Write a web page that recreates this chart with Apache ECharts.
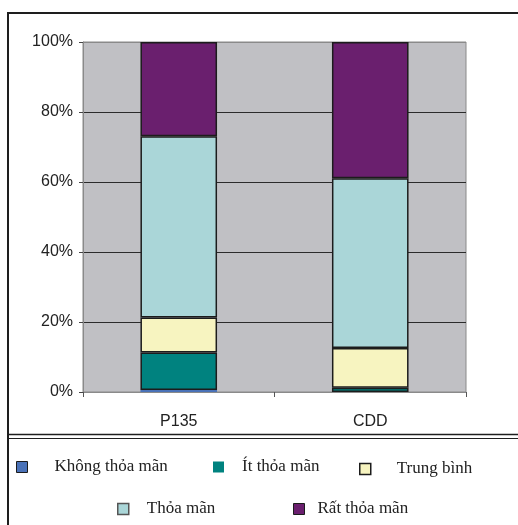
<!DOCTYPE html>
<html>
<head>
<meta charset="utf-8">
<script src="https://cdn.jsdelivr.net/npm/echarts@6/dist/echarts.min.js"></script>
<style>
  html, body { margin: 0; padding: 0; background: #ffffff; }
  #chart { width: 518px; height: 525px; }
</style>
</head>
<body>
<div id="chart"></div>
<script>
// Satisfaction levels (percent of respondents) for each programme
const categories = ['P135', 'CDD'];
const yTickLabels = ['0%', '20%', '40%', '60%', '80%', '100%'];

const seriesNames = ['Không thỏa mãn', 'Ít thỏa mãn', 'Trung bình', 'Thỏa mãn', 'Rất thỏa mãn'];
const khongThoaMan = [0.6, 0];
const itThoaMan = [10.7, 1.2];
const trungBinh = [10.0, 11.4];
const thoaMan = [51.8, 48.5];
const ratThoaMan = [26.9, 38.9];

const seriesValues = [khongThoaMan, itThoaMan, trungBinh, thoaMan, ratThoaMan];
const seriesColors = ['#4a72b8', '#00827f', '#f7f4c0', '#aad6d8', '#6a1f6e'];

const chart = echarts.init(document.getElementById('chart'), null, { renderer: 'canvas' });

const series = seriesNames.map((name, i) => ({
  name: name,
  type: 'bar',
  stack: 'total',
  barWidth: '40%',
  data: seriesValues[i],
  itemStyle: {
    color: seriesColors[i],
    borderColor: '#1c1c1c',
    borderWidth: i === 0 ? 0 : 1.5
  },
  emphasis: { disabled: true }
}));

// Legend placement: one small legend per entry, laid out in two rows
const legendSpots = [
  { left: 16, top: 457, gap: 22, border: '#1c1c1c', bw: 1 },
  { left: 213, top: 457, gap: 13, border: '#00827f', bw: 0 },
  { left: 359, top: 459, gap: 21, border: '#1c1c1c', bw: 1.5 },
  { left: 117, top: 499, gap: 13, border: '#555555', bw: 1.5 },
  { left: 293, top: 499, gap: 8, border: '#1c1c1c', bw: 1 }
];

const legends = seriesNames.map((name, i) => ({
  show: true,
  left: legendSpots[i].left,
  top: legendSpots[i].top,
  padding: 0,
  itemWidth: 11,
  itemHeight: 11,
  icon: 'rect',
  selectedMode: false,
  data: [{
    name: name,
    itemStyle: {
      color: seriesColors[i],
      borderColor: legendSpots[i].border,
      borderWidth: legendSpots[i].bw
    }
  }],
  textStyle: {
    fontFamily: '"Liberation Serif", "DejaVu Serif", serif',
    fontSize: 17,
    color: '#222222',
    lineHeight: 20,
    padding: [0, 0, 0, legendSpots[i].gap]
  }
}));

const gridLineColor = '#2b2b2b';

chart.setOption({
  animation: false,
  backgroundColor: '#ffffff',
  grid: {
    left: 83,
    right: 52,
    top: 42,
    bottom: 133,
    show: true,
    backgroundColor: '#c0c0c4',
    borderColor: '#8a8a8a',
    borderWidth: 1
  },
  legend: legends,
  xAxis: {
    type: 'category',
    data: categories,
    axisLine: { show: true, lineStyle: { color: '#8a8a8a', width: 1 } },
    axisTick: { show: true, length: 5, lineStyle: { color: '#555555' } },
    axisLabel: {
      margin: 22,
      fontFamily: '"Liberation Sans", Arial, sans-serif',
      fontSize: 16,
      color: '#222222'
    },
    splitLine: { show: false }
  },
  yAxis: {
    type: 'value',
    min: 0,
    max: 100,
    interval: 20,
    axisLine: { show: true, lineStyle: { color: '#8a8a8a', width: 1 } },
    axisTick: { show: true, length: 4, lineStyle: { color: '#444444' } },
    axisLabel: {
      margin: 10,
      fontFamily: '"Liberation Sans", Arial, sans-serif',
      fontSize: 16,
      color: '#222222',
      formatter: (v) => yTickLabels[Math.round(v / 20)]
    },
    splitLine: {
      show: true,
      lineStyle: {
        color: ['#8a8a8a', gridLineColor, gridLineColor, gridLineColor, gridLineColor, '#8a8a8a'],
        width: 1
      }
    }
  },
  graphic: [
    // outer frame: top and left edges
    { type: 'line', shape: { x1: 7, y1: 13, x2: 518, y2: 13 }, style: { stroke: '#1e1e1e', lineWidth: 2 }, silent: true },
    { type: 'line', shape: { x1: 8, y1: 12, x2: 8, y2: 525 }, style: { stroke: '#1e1e1e', lineWidth: 2 }, silent: true },
    // double rule separating the legend
    { type: 'line', shape: { x1: 8, y1: 434.5, x2: 518, y2: 434.5 }, style: { stroke: '#1e1e1e', lineWidth: 1.5 }, silent: true },
    { type: 'line', shape: { x1: 8, y1: 438.5, x2: 518, y2: 438.5 }, style: { stroke: '#1e1e1e', lineWidth: 1 }, silent: true }
  ],
  series: series
});
</script>
</body>
</html>
